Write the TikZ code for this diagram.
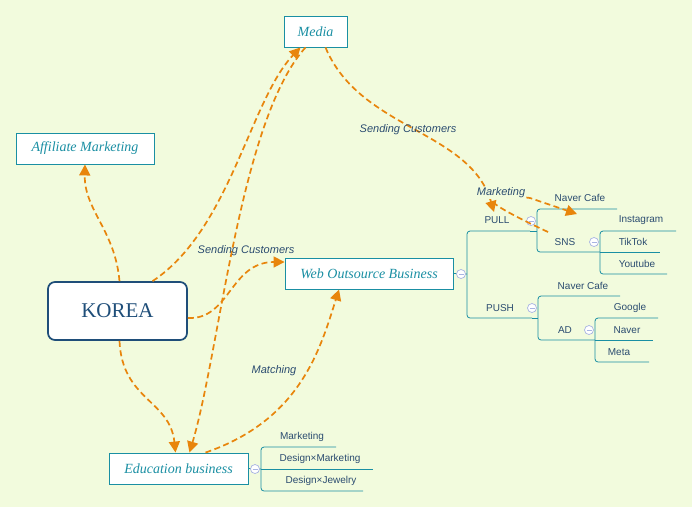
\documentclass[tikz,border=0pt]{standalone}
\usepackage{fontspec}
\setmainfont{Liberation Serif}
\setsansfont{Liberation Sans}
\usetikzlibrary{arrows.meta}
\definecolor{bg}{HTML}{F2FBDD}
\definecolor{teal}{HTML}{1A8FA3}
\definecolor{navy}{HTML}{1F4E79}
\definecolor{lbl}{HTML}{2B4C70}
\definecolor{org}{HTML}{E8850C}
\definecolor{cir}{HTML}{A8B4E2}
\tikzset{
 box/.style={draw=teal,fill=white,line width=0.9pt,font=\itshape\fontsize{14}{16}\selectfont,text=teal,minimum height=31pt,inner xsep=0pt},
 small/.style={font=\sffamily\fontsize{10}{12}\selectfont,text=lbl,inner sep=1pt},
 clab/.style={font=\sffamily\itshape\fontsize{11}{13}\selectfont,text=lbl,inner sep=1pt},
 tree/.style={draw=teal,line width=0.8pt,rounded corners=3pt},
 arr/.style={draw=org,line width=1.7pt,dash pattern=on 6pt off 3.5pt,-{Triangle[length=11pt,width=11pt]}},
 col/.style={circle,draw=cir,fill=white,inner sep=0pt,minimum size=9pt,line width=0.7pt,
   path picture={\draw[cir,line width=0.7pt] ([xshift=-2.5pt]path picture bounding box.center)--([xshift=2.5pt]path picture bounding box.center);}}
}
\begin{document}
\begin{tikzpicture}[x=1pt,y=-1pt]
\fill[bg] (0,0) rectangle (692,507);
\useasboundingbox (0,0) rectangle (692,507);
% nodes
\node[box,minimum width=63pt] (media) at (315.5,31.5) {Media};
\node[box,minimum width=138pt] (aff) at (85,148.5) {Affiliate Marketing};
\node[draw=navy,fill=white,line width=1.7pt,rounded corners=7pt,minimum width=139pt,minimum height=58pt,text=navy,font=\fontsize{21}{24}\selectfont] (korea) at (117.5,311) {KOREA};
\node[box,minimum width=168pt] (web) at (369,273.5) {Web Outsource Business};
\node[box,minimum width=139pt] (edu) at (178.5,468.5) {Education business};
% right tree
\draw[tree] (web.east) -- (467,274);
\draw[tree] (530,231) -- (467,231) -- (467,318) -- (532,318);
\node[col] (c1) at (461,274) {};
\node[small] (pull) at (497,220) {PULL};
\node[small] (push) at (500,308) {PUSH};
\draw[tree] (617,209) -- (537,209) -- (537,252) -- (600,252);
\draw[tree] (530,231) -- (537,231);
\node[col] (c2) at (531,221) {};
\node[small] (nc1) at (580,198) {Naver Cafe};
\node[small] (sns) at (565,242) {SNS};
\node[col] (c3) at (594,242) {};
\draw[tree] (676,231) -- (600,231) -- (600,274) -- (667,274);
\draw[tree] (600,252) -- (660,252);
\node[small] (ig) at (641,220) {Instagram};
\node[small] (tt) at (633,242) {TikTok};
\node[small] (yt) at (637,264) {Youtube};
\draw[tree] (620,296) -- (538,296) -- (538,340) -- (595,340);
\draw[tree] (532,318) -- (538,318);
\node[col] (c4) at (532,308) {};
\node[small] (nc2) at (583,286) {Naver Cafe};
\node[small] (ad) at (565,330) {AD};
\node[col] (c5) at (589,330) {};
\draw[tree] (658,318) -- (595,318) -- (595,362) -- (649,362);
\draw[tree] (595,340) -- (653,340);
\node[small] (gg) at (630,308) {Google};
\node[small] (nv) at (627,330) {Naver};
\node[small] (mt) at (619,352) {Meta};
% education list
\draw[tree] (edu.east) -- (261,469);
\draw[tree] (336,447) -- (261,447) -- (261,491) -- (363,491);
\draw[tree] (261,469) -- (373,469);
\node[col] (c6) at (255,469) {};
\node[small] (m1) at (302,437) {Marketing};
\node[small] (m2) at (320,459) {Design×Marketing};
\node[small] (m3) at (321,481) {Design×Jewelry};
% connectors
\coordinate (snsA) at (548,232);
\coordinate (pullA) at (494,212);
\coordinate (ncA) at (577,214);
\draw[arr] ([xshift=2pt]korea.north) .. controls (115,230) and (84,210) .. (aff.south);
\draw[arr] ([xshift=35pt]korea.north) .. controls (230,230) and (250,100) .. ([xshift=-15pt]media.south);
\draw[arr] (korea.east |- 0,318) .. controls (230,320) and (230,262) .. (web.west |- 0,262);
\draw[arr] ([xshift=2pt]korea.south) .. controls (122,400) and (170,400) .. ([xshift=-3pt]edu.north);
\draw[arr] ([xshift=-10pt]media.south) .. controls (240,120) and (220,350) .. ([xshift=11pt]edu.north);
\draw[arr] ([xshift=27pt]edu.north) .. controls (300,420) and (320,350) .. ([xshift=-30pt]web.south);
\draw[arr] ([xshift=10pt]media.south) .. controls (360,130) and (470,130) .. (pullA);
\draw[arr] (snsA) .. controls (480,200) and (470,190) .. (530,198) -- (ncA);
\node[clab] (l1) at (246,251) {Sending Customers};
\node[clab] (l2) at (274,371) {Matching};
\node[clab] (l3) at (408,130) {Sending Customers};
\node[clab,fill=bg] (l4) at (501,193) {Marketing};
\end{tikzpicture}
\end{document}
